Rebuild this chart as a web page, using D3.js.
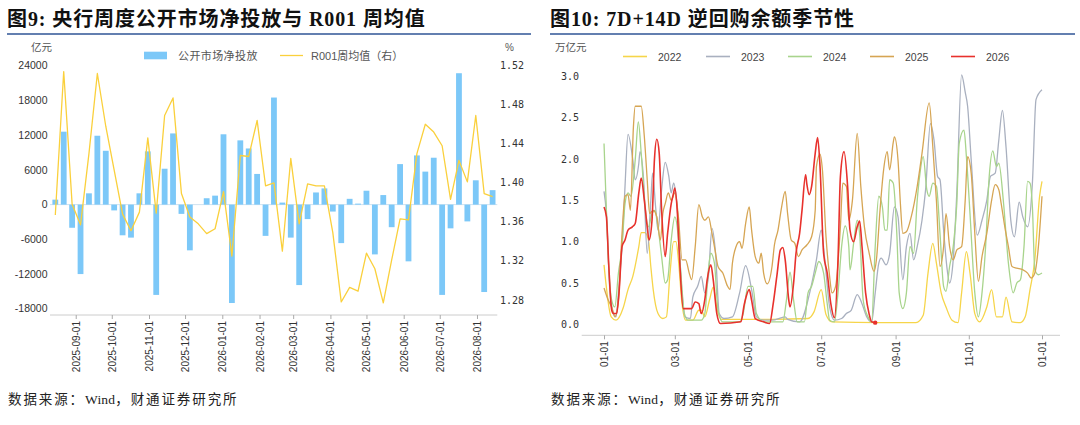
<!DOCTYPE html>
<html>
<head>
  <meta charset='utf-8'>
  <title>图9 / 图10</title>
  <script src='https://cdn.jsdelivr.net/npm/d3@7'></script>
  <style>
    body { margin: 0; background: #ffffff; }
    svg { display: block; }
  </style>
</head>
<body>
<svg id='chart' width='1080' height='425'></svg>
<script>
// --- 图9 data: weekly net injection (亿元) and R001 weekly mean (%)
const netInjection = [
  860, 12600, -4000, -12000, 1950, 11900, 9300, -1000, -5300, -5700,
  1950, 9200, -15600, 6200, 12300, -1600, -7900, 0, 1100, 1550,
  12150, -17000, 11100, 9700, 5300, -5400, 18500, 350, -5700, -13900,
  -2500, 2100, 2800, -1200, -6650, 1000, 170, 2400, -8600, 1650,
  -3900, 7000, -9800, 8500, 5700, 8100, -15600, -4100, 22700, -2900,
  4200, -15100, 2500
];
const r001 = [
  1.367, 1.514, 1.378, 1.357, 1.430, 1.512, 1.458, 1.413, 1.368, 1.351,
  1.370, 1.446, 1.369, 1.469, 1.487, 1.389, 1.365, 1.358, 1.348, 1.353,
  1.391, 1.325, 1.428, 1.427, 1.464, 1.397, 1.400, 1.330, 1.425, 1.358,
  1.399, 1.397, 1.397, 1.349, 1.278, 1.293, 1.289, 1.328, 1.312, 1.277,
  1.321, 1.363, 1.362, 1.430, 1.460, 1.452, 1.438, 1.383, 1.423, 1.401,
  1.469, 1.389, 1.386
];
const weeks = d3.timeFriday.range(new Date(2025, 7, 15), new Date(2026, 7, 15));
const monthTicks = d3.timeMonth.range(new Date(2025, 8, 1), new Date(2026, 7, 2));
const leftTicks = [-18000, -12000, -6000, 0, 6000, 12000, 18000, 24000];
const rightTicks = [1.28, 1.32, 1.36, 1.40, 1.44, 1.48, 1.52];

// --- 图10 data: 7D+14D reverse repo balance (万亿元), [day of year, value]
const seasonTickDays = [0, 59, 120, 181, 243, 304, 365];
const seasonTickLabels = ['01-01', '03-01', '05-01', '07-01', '09-01', '11-01', '01-01'];
const balanceTicks = [0, 0.5, 1.0, 1.5, 2.0, 2.5, 3.0];
const years = ['2022', '2023', '2024', '2025', '2026'];
const yearColors = ['#F6D54A', '#A9B0BF', '#A8D48C', '#D6A553', '#E8312C'];

const b2022 = [[0,0.72],[6,0.09],[10,0.05],[16,0.2],[20,0.42],[24,0.58],[29,0.94],[31,1.11],[34,1.11],[37,1.02],[39,0.7],[41,0.42],[45,0.13],[49,0.07],[52,0.09],[55,0.62],[58,1.0],[60,1.0],[62,0.78],[65,0.25],[68,0.05],[74,0.05],[79,0.17],[81,0.17],[84,0.09],[88,0.3],[91,0.45],[94,0.2],[98,0.06],[110,0.06],[140,0.06],[170,0.07],[175,0.15],[181,0.42],[185,0.12],[190,0.03],[230,0.02],[260,0.02],[266,0.11],[270,0.62],[274,0.98],[277,0.74],[281,0.38],[285,0.21],[290,0.05],[295,0.02],[298,0.38],[302,0.88],[305,0.62],[309,0.13],[313,0.03],[319,0.21],[323,0.42],[327,0.09],[332,0.09],[335,0.33],[340,0.03],[347,0.02],[351,0.09],[355,0.42],[359,0.78],[363,1.55],[365,1.73]];
const b2023 = [[0,1.61],[2,1.34],[5,0.38],[8,0.13],[10,0.09],[12,0.38],[15,0.94],[17.5,1.67],[20,2.3],[24,1.99],[26,1.75],[29,1.95],[30,2.09],[33,1.75],[36,0.86],[39,1.5],[40.5,1.83],[43,1.42],[45,1.14],[48,1.63],[51,1.96],[54,1.79],[56,1.59],[58,1.71],[60.5,1.5],[65,0.38],[67.5,0.09],[72,0.07],[74,0.33],[78,0.46],[81,0.58],[84,0.38],[87,0.58],[90,1.16],[93,0.85],[96,0.13],[100,0.07],[107,0.09],[113,0.38],[118,0.71],[123,0.42],[127,0.09],[133,0.05],[140,0.05],[151,0.09],[153,0.06],[163,0.03],[172,0.42],[177,0.78],[181,1.14],[184,0.78],[188,0.21],[192,0.05],[198,0.07],[202,0.13],[206,0.17],[211,0.36],[215,0.25],[219,0.09],[223,0.03],[226,0.38],[229,0.74],[231,0.8],[235,0.72],[238,0.85],[242,1.42],[245,1.3],[249,0.54],[252,0.94],[255,1.1],[258,0.78],[261,0.94],[265,1.26],[268,1.63],[272,2.43],[275,2.23],[278,1.79],[280,1.75],[283,1.14],[286,0.66],[288,0.5],[291,0.78],[294,1.59],[298,3.02],[301,2.81],[303,2.64],[306,1.99],[311,1.08],[315,1.26],[319,1.5],[322,1.79],[326,1.83],[329,2.23],[332,2.59],[335,2.15],[339,1.26],[342,1.06],[346,1.48],[349,1.3],[353,1.18],[357,1.71],[360,2.72],[365,2.84]];
const b2024 = [[0,2.19],[1.7,1.5],[3.6,0.78],[6.4,0.29],[9,0.21],[12,0.62],[15,0.94],[17.5,1.46],[20,1.59],[22.5,1.55],[26,1.99],[28.6,2.45],[31,2.07],[34,1.46],[37,1.18],[40,1.34],[42.5,1.38],[45,1.18],[48,0.82],[51,0.5],[53,0.54],[56,1.02],[59,1.3],[61,1.18],[64,0.62],[67,0.13],[70,0.05],[81,0.05],[84,0.13],[87,0.66],[89,0.86],[92,0.74],[95,0.17],[99,0.03],[113,0.03],[116,0.13],[120,0.46],[124,0.46],[127,0.13],[133,0.03],[149,0.03],[152,0.29],[155,0.63],[158,0.29],[161,0.03],[167,0.03],[170,0.38],[173,0.46],[176,0.62],[179,0.76],[183,0.62],[186,0.25],[188,0.05],[192,0.03],[195,0.38],[198,0.94],[201,1.19],[204,0.94],[205,0.66],[208,0.98],[211,1.26],[213,1.1],[216,0.29],[220,0.09],[223,0.03],[226,0.94],[229,1.55],[232,1.42],[234,1.14],[236,1.14],[238,1.75],[241,1.71],[244,1.1],[246,0.38],[249,0.19],[252,0.38],[255,0.94],[258,0.86],[261,1.5],[263,1.79],[266,2.03],[269,1.63],[271,1.55],[274,1.71],[277,1.67],[280,1.1],[283,0.46],[285,0.4],[288,0.7],[291,0.94],[294,1.46],[296,2.19],[300,2.35],[302,2.03],[305,1.34],[309,0.38],[312,0.09],[315,0.38],[318,0.94],[321,1.79],[324,2.1],[327,1.91],[329,1.95],[333,1.46],[337,0.74],[341,0.38],[344,0.5],[347,0.54],[350,0.94],[353,1.73],[355,1.71],[357,1.42],[359,0.66],[362,0.6],[365,0.62]];
const b2025 = [[0,0.44],[3.6,0.29],[6.4,0.21],[9,0.09],[12,0.29],[15,1.1],[17.5,1.55],[20,1.57],[22,1.38],[24.5,2.39],[26,2.64],[31,2.64],[33.6,2.27],[36,1.75],[38,1.34],[41,1.38],[44,1.3],[47,1.02],[49,1.34],[51,1.46],[53.6,1.59],[56,1.5],[59,1.59],[62,1.3],[65,0.78],[68,0.78],[71,0.62],[73,0.54],[76,0.94],[79,1.45],[82,1.3],[84,1.26],[87,1.3],[90,1.1],[92.5,0.9],[95,0.7],[99,0.62],[103,0.46],[105,0.42],[107,0.74],[110,0.94],[113,1.0],[115,0.92],[118,1.22],[121,1.42],[123,1.14],[126,0.82],[129,0.74],[131,0.86],[133,0.62],[136,0.49],[140,0.7],[142,0.96],[145,1.14],[148,1.42],[151,1.61],[153,1.34],[156,1.02],[159,0.98],[162,0.82],[165,0.9],[169,0.96],[173,1.06],[176,1.38],[177,1.91],[180,2.06],[182,1.87],[185,1.06],[188,0.58],[190,0.38],[193,0.46],[197,1.18],[199,1.71],[202,1.67],[204,1.26],[207,1.5],[211,2.31],[214,1.67],[217,1.18],[221,0.86],[225,0.64],[227,0.78],[230,1.38],[233,1.87],[236,2.09],[238,1.87],[241,2.2],[242,2.27],[245,1.99],[247,1.46],[249,1.1],[252,1.12],[256,1.3],[261,1.67],[265,2.07],[271,2.68],[274,2.15],[277,1.5],[280,0.7],[283,0.94],[285,1.34],[288,0.94],[291,0.78],[294,0.9],[298,0.94],[301,1.5],[303,2.03],[306,1.83],[309,1.1],[312,0.52],[315,0.82],[319,1.1],[323,1.5],[326,1.69],[329,1.63],[331,1.46],[334,1.18],[337,0.94],[340,0.7],[344,0.68],[349,0.66],[353,0.62],[356,0.56],[359,0.62],[362,0.94],[365,1.55]];
const b2026 = [[0,1.42],[2,1.3],[4,0.7],[6.4,0.17],[8,0.13],[10.5,0.13],[12.5,0.38],[15,0.94],[17.5,1.02],[20,1.14],[23.6,1.18],[26,1.22],[29,1.59],[31,1.77],[33.6,1.5],[36,1.18],[37.5,1.02],[40,1.26],[42,1.99],[44,2.24],[46,2.07],[48,1.38],[51,0.82],[53,1.1],[56,1.46],[58,1.59],[59,1.65],[61,1.38],[63,0.78],[66,0.19],[69,0.19],[73,0.19],[76,0.27],[79,0.25],[81,0.13],[84,0.3],[86,0.54],[89,0.72],[91,0.54],[94,0.13],[97,0.01],[114,0.03],[117,0.25],[121,0.42],[123,0.29],[126,0.07],[133,0.03],[138,0.01],[141,0.25],[144,0.58],[147,0.9],[149,0.93],[151,0.78],[154,0.29],[155,0.21],[158,0.5],[160,0.86],[163,1.1],[165,1.38],[168,1.81],[169,1.7],[171,1.57],[173,1.67],[176,2.07],[178,2.26],[180,1.91],[183,0.86],[186,0.62],[189,0.25],[192,0.08],[195,0.78],[197,1.79],[200,2.09],[203,1.67],[205,1.14],[208,1.0],[211,1.18],[213,1.25],[215,0.94],[218,0.38],[221,0.12],[223,0.03],[226,0.02]];
const balances = [b2022, b2023, b2024, b2025, b2026];

const svg = d3.select('#chart');
const sans = "'Liberation Sans', Arial, 'Noto Sans CJK SC', sans-serif";
const mono = "'DejaVu Sans Mono', monospace";
const titleFont = "'Liberation Serif', 'Noto Sans CJK SC', serif";
const sourceParts = [['数据来源：', 1.9], ['Wind', 0.2], ['，财通证券研究所', 1.9]];

// titles, rules and source notes for both panels
[
  {x: 7, x2: 531, title: '图9: 央行周度公开市场净投放与 R001 周均值'},
  {x: 550, x2: 1075, title: '图10: 7D+14D 逆回购余额季节性'}
].forEach((p) => {
  svg.append('text').attr('x', p.x).attr('y', 26)
      .attr('font-family', titleFont).attr('font-weight', 'bold')
      .attr('font-size', 20).attr('letter-spacing', 0.9)
      .attr('fill', '#111').text(p.title);
  svg.append('line').attr('x1', p.x).attr('x2', p.x2).attr('y1', 34).attr('y2', 34)
      .attr('stroke', '#2F5496').attr('stroke-width', 1.6);
  const src = svg.append('text').attr('x', p.x + 1).attr('y', 404)
      .attr('font-family', titleFont).attr('font-size', 13.5).attr('fill', '#222');
  sourceParts.forEach((s) => {
    src.append('tspan').attr('letter-spacing', s[1]).text(s[0]);
  });
});

// ---------------- 图9 ----------------
const xL = d3.scaleTime()
    .domain([new Date(2025, 7, 10, 14), new Date(2026, 7, 17, 22)])
    .range([50, 497.3]);
const yL = d3.scaleLinear().domain([-18000, 24000]).range([308.8, 65.7]);
const yR = d3.scaleLinear().domain([1.28, 1.52]).range([300, 65.7]);
const leftBottom = 315;

const gL = svg.append('g');
gL.append('line').attr('x1', 50).attr('x2', 497.3)
    .attr('y1', yL(0)).attr('y2', yL(0))
    .attr('stroke', '#CFE2F0').attr('stroke-width', 1);
gL.selectAll('rect.bar').data(netInjection).join('rect')
    .attr('class', 'bar')
    .attr('x', (d, i) => xL(weeks[i]) - 2.9)
    .attr('width', 5.8)
    .attr('y', (d) => Math.min(yL(d), yL(0)))
    .attr('height', (d) => Math.abs(yL(d) - yL(0)))
    .attr('fill', '#7CC8F8');
gL.append('path').datum(r001)
    .attr('fill', 'none').attr('stroke', '#FAD03C').attr('stroke-width', 1.3)
    .attr('stroke-linejoin', 'round')
    .attr('d', d3.line().x((d, i) => xL(weeks[i])).y((d) => yR(d)));

const axL = gL.append('g').attr('transform', `translate(0, ${leftBottom})`)
    .call(d3.axisBottom(xL).tickValues(monthTicks).tickSize(4)
        .tickFormat(d3.timeFormat('%Y-%m-%d')));
axL.select('.domain').attr('stroke', '#CCCCCC').attr('d', 'M50,0H497.3');
axL.selectAll('.tick line').attr('stroke', '#AAAAAA');
axL.selectAll('.tick text')
    .attr('font-family', sans).attr('font-size', 10).attr('fill', '#333')
    .attr('transform', 'rotate(-90)').attr('text-anchor', 'end')
    .attr('x', -6).attr('y', 0).attr('dy', '0.35em');

gL.selectAll('text.yl').data(leftTicks).join('text')
    .attr('class', 'yl').attr('x', 47.5).attr('y', (d) => yL(d)).attr('dy', '0.35em')
    .attr('text-anchor', 'end').attr('font-family', sans).attr('font-size', 10.5)
    .attr('fill', '#333').text((d) => d);
gL.selectAll('text.yr').data(rightTicks).join('text')
    .attr('class', 'yr').attr('x', 500).attr('y', (d) => yR(d)).attr('dy', '0.35em')
    .attr('font-family', mono).attr('font-size', 10)
    .attr('fill', '#333').text((d) => d3.format('.2f')(d));
gL.append('text').attr('x', 31).attr('y', 51).attr('font-family', sans)
    .attr('font-size', 10.5).attr('fill', '#555').text('亿元');
gL.append('text').attr('x', 505).attr('y', 51).attr('font-family', sans)
    .attr('font-size', 10).attr('fill', '#555').text('%');

gL.append('rect').attr('x', 144).attr('y', 51.7).attr('width', 23).attr('height', 7.6)
    .attr('fill', '#7CC8F8');
gL.append('text').attr('x', 178).attr('y', 59.5).attr('font-family', sans)
    .attr('font-size', 11).attr('letter-spacing', 0.4).attr('fill', '#555').text('公开市场净投放');
gL.append('line').attr('x1', 280).attr('x2', 303).attr('y1', 55.5).attr('y2', 55.5)
    .attr('stroke', '#FAD03C').attr('stroke-width', 1.3);
gL.append('text').attr('x', 311).attr('y', 59.5).attr('font-family', sans)
    .attr('font-size', 11).attr('fill', '#555').text('R001周均值（右）');

// ---------------- 图10 ----------------
const xS = d3.scaleLinear().domain([-18.6, 380]).range([581.7, 1060]);
const yS = d3.scaleLinear().domain([0, 3]).range([324.3, 76.5]);
const seasonBottom = 335.3;
const gR = svg.append('g');

const axS = gR.append('g').attr('transform', `translate(0, ${seasonBottom})`)
    .call(d3.axisBottom(xS).tickValues(seasonTickDays).tickSize(4)
        .tickFormat((d, i) => seasonTickLabels[i]));
axS.select('.domain').attr('stroke', '#CCCCCC').attr('d', 'M581.7,0H1060');
axS.selectAll('.tick line').attr('stroke', '#AAAAAA');
axS.selectAll('.tick text')
    .attr('font-family', sans).attr('font-size', 10).attr('fill', '#333')
    .attr('transform', 'rotate(-90)').attr('text-anchor', 'end')
    .attr('x', -6).attr('y', 0).attr('dy', '0.35em');

gR.selectAll('text.ys').data(balanceTicks).join('text')
    .attr('class', 'ys').attr('x', 579).attr('y', (d) => yS(d)).attr('dy', '0.35em')
    .attr('text-anchor', 'end').attr('font-family', mono).attr('font-size', 10)
    .attr('fill', '#333').text((d) => d3.format('.1f')(d));
gR.append('text').attr('x', 555).attr('y', 51).attr('font-family', sans)
    .attr('font-size', 10.5).attr('fill', '#555').text('万亿元');

const seasonLine = d3.line().curve(d3.curveMonotoneX)
    .x((d) => xS(d[0])).y((d) => yS(d[1]));
gR.selectAll('path.season').data(balances).join('path')
    .attr('class', 'season')
    .attr('fill', 'none')
    .attr('stroke', (d, i) => yearColors[i])
    .attr('stroke-width', (d, i) => i === 4 ? 1.6 : 1.3)
    .attr('d', seasonLine);
const lastPoint = b2026[b2026.length - 1];
gR.append('circle').attr('cx', xS(lastPoint[0])).attr('cy', yS(lastPoint[1]))
    .attr('r', 2.2).attr('fill', yearColors[4]);

const legendX = [623, 706, 788, 870, 951];
years.forEach((y, i) => {
  gR.append('line').attr('x1', legendX[i]).attr('x2', legendX[i] + 24)
      .attr('y1', 56.5).attr('y2', 56.5)
      .attr('stroke', yearColors[i]).attr('stroke-width', 1.6);
  gR.append('text').attr('x', legendX[i] + 35).attr('y', 60.5)
      .attr('font-family', sans).attr('font-size', 10.5).attr('fill', '#444').text(y);
});
</script>
</body>
</html>
